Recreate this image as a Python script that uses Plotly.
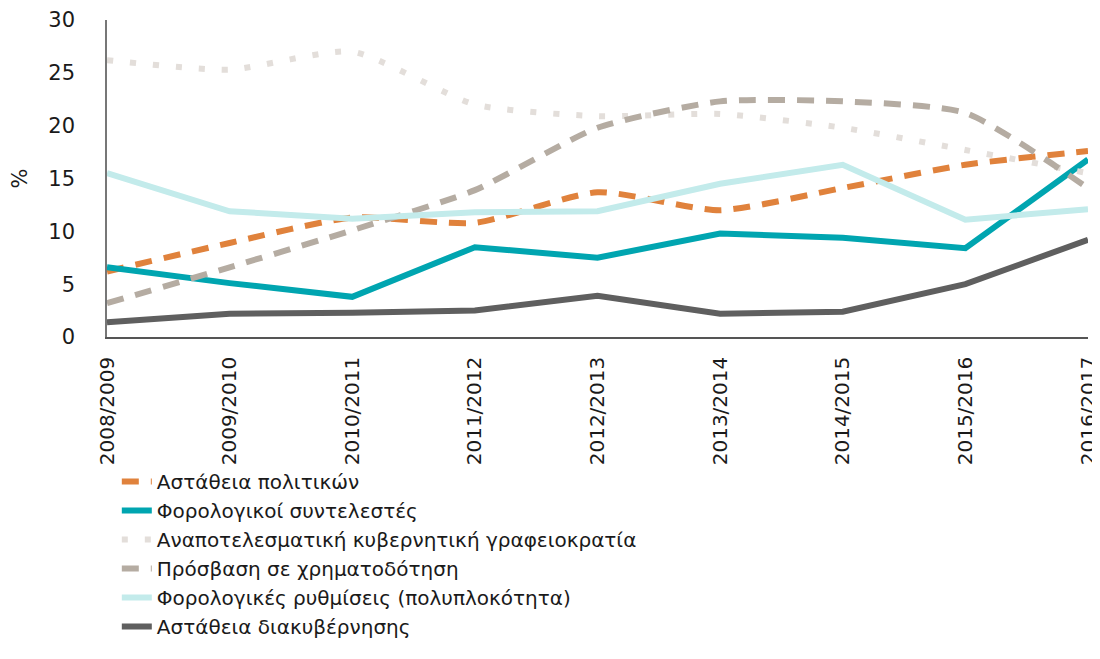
import plotly.graph_objects as go

years = ['2008/2009', '2009/2010', '2010/2011', '2011/2012', '2012/2013',
         '2013/2014', '2014/2015', '2015/2016', '2016/2017']

politiki = [6.2, 8.9, 11.3, 10.8, 13.7, 12.0, 14.1, 16.3, 17.6]
syntelestes = [6.6, 5.1, 3.8, 8.5, 7.5, 9.8, 9.4, 8.4, 16.8]
grafeiokratia = [26.2, 25.3, 27.0, 22.0, 20.9, 21.1, 19.8, 17.7, 15.5]
xrimatodotisi = [3.2, 6.6, 10.1, 13.9, 19.8, 22.3, 22.3, 21.2, 14.1]
rythmiseis = [15.5, 11.9, 11.2, 11.8, 11.9, 14.5, 16.3, 11.1, 12.1]
diakyvernisi = [1.4, 2.2, 2.3, 2.5, 3.9, 2.2, 2.4, 5.0, 9.2]

names = ['Αστάθεια πολιτικών', 'Φορολογικοί συντελεστές',
         'Αναποτελεσματική κυβερνητική γραφειοκρατία', 'Πρόσβαση σε χρηματοδότηση',
         'Φορολογικές ρυθμίσεις (πολυπλοκότητα)', 'Αστάθεια διακυβέρνησης']

FONT = 'DejaVu Sans'

fig = go.Figure()
# (values, colour, dash, shape)
series = [
    (politiki, '#E0823C', '17px,12px', 'spline'),
    (syntelestes, '#00A5B0', 'solid', 'linear'),
    (grafeiokratia, '#E3DEDA', '6px,17px', 'spline'),
    (xrimatodotisi, '#B5ACA2', '17px,12px', 'spline'),
    (rythmiseis, '#C3EBEB', 'solid', 'linear'),
    (diakyvernisi, '#5F5F5F', 'solid', 'linear'),
]
for name, (vals, col, dash, shape) in zip(names, series):
    fig.add_trace(go.Scatter(x=years, y=vals, name=name, mode='lines',
                             line=dict(color=col, width=6, dash=dash, shape=shape, smoothing=0.6)))

# page body has an 8px margin, so the figure is sized to fit the window.
# legend sits just inside the paper bottom so it doesn't push the margin
fig.update_layout(
    width=1092, height=651,
    plot_bgcolor='white', paper_bgcolor='white',
    margin=dict(l=99, r=12, t=12, b=322),
    font=dict(family=FONT, size=18, color='#1a1a1a'),
    showlegend=True,
    legend=dict(x=0.01, xanchor='left', y=-0.975, yanchor='bottom',
                font=dict(size=20, family=FONT), tracegroupgap=0,
                itemwidth=30, bgcolor='rgba(0,0,0,0)'),
)
fig.update_yaxes(range=[0, 30], dtick=5, showgrid=False, zeroline=False,
                 showline=True, linecolor='#777777', linewidth=1.5, automargin=False,
                 tickfont=dict(size=21, family=FONT), ticklabelstandoff=26,
                 title=dict(text='%', font=dict(size=21, family=FONT), standoff=36))
fig.update_xaxes(showgrid=False, showline=True, linecolor='#555555', linewidth=1.5,
                 automargin=False,
                 tickangle=-90, tickfont=dict(size=20, family=FONT),
                 range=[0, 8], ticklabelstandoff=10)

fig.write_html("out.html")
